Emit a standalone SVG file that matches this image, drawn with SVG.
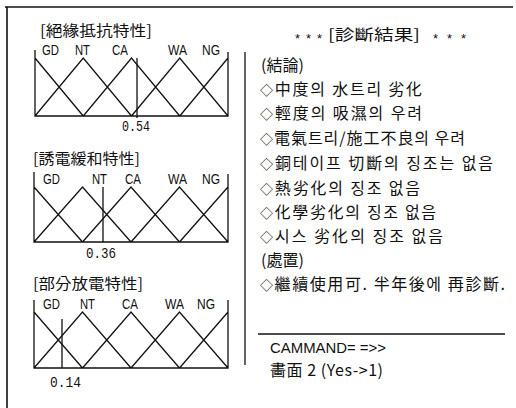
<svg xmlns="http://www.w3.org/2000/svg" width="516" height="408" viewBox="0 0 516 408">
<style>
.ln{fill:none;stroke:#111;stroke-width:1.3;stroke-linejoin:miter}
.bd{fill:none;stroke:#111;stroke-width:1.6}
.lab{font-family:"Liberation Sans",Arial,sans-serif;font-size:15px;fill:#111}
.num{font-family:"Liberation Mono","DejaVu Sans Mono",monospace;font-size:14px;fill:#111}
.kr{font-family:"Noto Sans CJK KR","Noto Sans CJK JP",sans-serif;font-size:16px;fill:#111}
.ttl{font-family:"Noto Sans CJK KR","Noto Sans CJK JP",sans-serif;font-size:15px;fill:#111}
.ast{font-family:"Liberation Sans",Arial,sans-serif;font-size:13px;fill:#111}
.cmd{font-family:"Liberation Sans",Arial,sans-serif;font-size:14px;fill:#111}
.dm{font-size:13px}
</style>
<rect width="516" height="408" fill="#fff"/>
<g id="frame">
<line class="bd" x1="5" y1="7" x2="513" y2="7"/>
<line class="bd" x1="7" y1="7" x2="7" y2="408"/>
<line class="ln" x1="245" y1="52" x2="245" y2="365"/>
<line class="ln" x1="258" y1="334" x2="505" y2="334"/>
</g>
<g id="chart1">
<text class="ttl" x="40" y="36" textLength="112" lengthAdjust="spacingAndGlyphs">[絕緣抵抗特性]</text>
<text class="lab" x="42" y="55" textLength="17" lengthAdjust="spacingAndGlyphs">GD</text>
<text class="lab" x="75" y="55" textLength="15" lengthAdjust="spacingAndGlyphs">NT</text>
<text class="lab" x="112" y="55" textLength="16" lengthAdjust="spacingAndGlyphs">CA</text>
<text class="lab" x="168" y="55" textLength="19" lengthAdjust="spacingAndGlyphs">WA</text>
<text class="lab" x="202" y="55" textLength="18" lengthAdjust="spacingAndGlyphs">NG</text>
<path class="ln" d="M35,50 V116 H228 V52 M35,58 L83.25,116 M35,116 L83.25,58 L131.5,116 M83.25,116 L131.5,58 L179.75,116 M131.5,116 L179.75,58 L228,116 M179.75,116 L228,58"/>
<line class="ln" x1="137" y1="58" x2="137" y2="118"/>
<text class="num" x="122" y="131" textLength="28" lengthAdjust="spacingAndGlyphs">0.54</text>
</g>
<g id="chart2">
<text class="ttl" x="33" y="164" textLength="107" lengthAdjust="spacingAndGlyphs">[誘電緩和特性]</text>
<text class="lab" x="43" y="184" textLength="17" lengthAdjust="spacingAndGlyphs">GD</text>
<text class="lab" x="92" y="184" textLength="15" lengthAdjust="spacingAndGlyphs">NT</text>
<text class="lab" x="125" y="184" textLength="16" lengthAdjust="spacingAndGlyphs">CA</text>
<text class="lab" x="168" y="184" textLength="19" lengthAdjust="spacingAndGlyphs">WA</text>
<text class="lab" x="202" y="184" textLength="18" lengthAdjust="spacingAndGlyphs">NG</text>
<path class="ln" d="M34,172 V242 H228 V174 M34,187 L82.5,242 M34,242 L82.5,187 L131,242 M82.5,242 L131,187 L179.5,242 M131,242 L179.5,187 L228,242 M179.5,242 L228,187"/>
<line class="ln" x1="103" y1="187" x2="103" y2="242"/>
<text class="num" x="86" y="258" textLength="30" lengthAdjust="spacingAndGlyphs">0.36</text>
</g>
<g id="chart3">
<text class="ttl" x="33" y="289" textLength="110" lengthAdjust="spacingAndGlyphs">[部分放電特性]</text>
<text class="lab" x="43" y="309" textLength="17" lengthAdjust="spacingAndGlyphs">GD</text>
<text class="lab" x="80" y="309" textLength="15" lengthAdjust="spacingAndGlyphs">NT</text>
<text class="lab" x="122" y="309" textLength="16" lengthAdjust="spacingAndGlyphs">CA</text>
<text class="lab" x="165" y="309" textLength="19" lengthAdjust="spacingAndGlyphs">WA</text>
<text class="lab" x="197" y="309" textLength="18" lengthAdjust="spacingAndGlyphs">NG</text>
<path class="ln" d="M34,300 V368 H228 V300 M34,312 L82.5,368 M34,368 L82.5,312 L131,368 M82.5,368 L131,312 L179.5,368 M131,368 L179.5,312 L228,368 M179.5,368 L228,312"/>
<line class="ln" x1="62" y1="319" x2="62" y2="368"/>
<text class="num" x="50" y="387" textLength="31" lengthAdjust="spacingAndGlyphs">0.14</text>
</g>
<g id="result">
<text class="ast" x="295" y="43">*</text>
<text class="ast" x="306" y="43">*</text>
<text class="ast" x="317" y="43">*</text>
<text class="ttl" x="328" y="40" textLength="92" lengthAdjust="spacingAndGlyphs">[診斷結果]</text>
<text class="ast" x="433" y="43">*</text>
<text class="ast" x="447" y="43">*</text>
<text class="ast" x="461" y="43">*</text>
<text class="kr" x="261" y="71">(結論)</text>
<text class="kr" x="260" y="95" textLength="162" lengthAdjust="spacing"><tspan class="dm">◇</tspan>中度의 水트리 劣化</text>
<text class="kr" x="260" y="119" textLength="162" lengthAdjust="spacing"><tspan class="dm">◇</tspan>輕度의 吸濕의 우려</text>
<text class="kr" x="260" y="144" textLength="205" lengthAdjust="spacing"><tspan class="dm">◇</tspan>電氣트리/施工不良의 우려</text>
<text class="kr" x="260" y="169" textLength="233" lengthAdjust="spacing"><tspan class="dm">◇</tspan>銅테이프 切斷의 징조는 없음</text>
<text class="kr" x="260" y="194" textLength="160" lengthAdjust="spacing"><tspan class="dm">◇</tspan>熱劣化의 징조 없음</text>
<text class="kr" x="260" y="218" textLength="176" lengthAdjust="spacing"><tspan class="dm">◇</tspan>化學劣化의 징조 없음</text>
<text class="kr" x="260" y="242" textLength="183" lengthAdjust="spacing"><tspan class="dm">◇</tspan>시스 劣化의 징조 없음</text>
<text class="kr" x="261" y="266">(處置)</text>
<text class="kr" x="260" y="290" textLength="245" lengthAdjust="spacing"><tspan class="dm">◇</tspan>繼續使用可. 半年後에 再診斷.</text>
<text class="cmd" x="270" y="353" textLength="116" lengthAdjust="spacingAndGlyphs">CAMMAND= =&gt;&gt;</text>
<text class="kr" x="270" y="376" font-size="14" textLength="113" lengthAdjust="spacing">畵面 2 (Yes-&gt;1)</text>
</g>
</svg>
